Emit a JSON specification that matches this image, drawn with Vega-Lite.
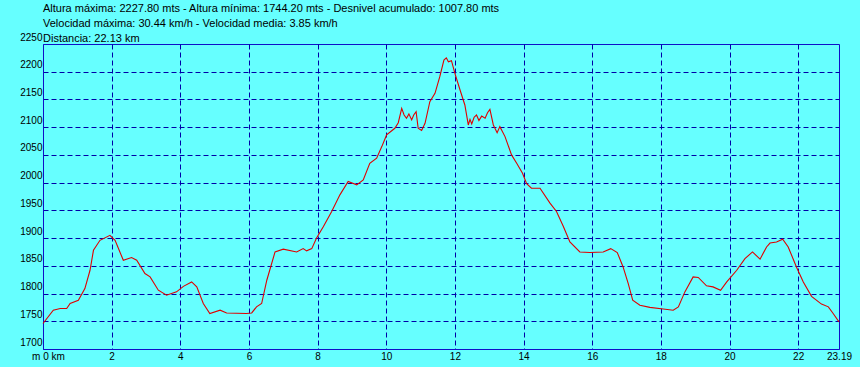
{
  "$schema": "https://vega.github.io/schema/vega-lite/v6.json",
  "width": 796,
  "height": 305,
  "autosize": {"type": "none"},
  "padding": {"left": 43, "top": 44, "right": 21, "bottom": 18},
  "background": "#66FFFF",
  "title": {
    "text": [
      "Altura máxima: 2227.80 mts - Altura mínima: 1744.20 mts - Desnivel acumulado: 1007.80 mts",
      "Velocidad máxima: 30.44 km/h - Velocidad media: 3.85 km/h",
      "Distancia: 22.13 km"
    ],
    "anchor": "start",
    "frame": "group",
    "font": "Liberation Sans",
    "fontSize": 11,
    "fontWeight": "normal",
    "color": "#000000",
    "lineHeight": 15,
    "offset": -12
  },
  "config": {
    "view": {"stroke": "#1010C8", "strokeWidth": 1, "fill": "#66FFFF"},
    "axis": {
      "labelFont": "Liberation Sans",
      "labelFontSize": 10,
      "labelColor": "#000000",
      "domainColor": "#1010C8",
      "domainWidth": 1,
      "ticks": false,
      "gridColor": "#0000A8",
      "gridDash": [5, 3],
      "gridWidth": 1,
      "gridOpacity": 1,
      "title": null
    }
  },
  "data": {
    "values": [
      {"km": 0, "alt": 1746}, {"km": 0.3, "alt": 1770}, {"km": 0.5, "alt": 1773}, {"km": 0.69, "alt": 1773},
      {"km": 0.79, "alt": 1782}, {"km": 1.03, "alt": 1788}, {"km": 1.22, "alt": 1809}, {"km": 1.37, "alt": 1842},
      {"km": 1.47, "alt": 1878}, {"km": 1.66, "alt": 1896}, {"km": 1.95, "alt": 1905}, {"km": 2.1, "alt": 1896},
      {"km": 2.34, "alt": 1860}, {"km": 2.58, "alt": 1865}, {"km": 2.73, "alt": 1860}, {"km": 2.97, "alt": 1836},
      {"km": 3.12, "alt": 1830}, {"km": 3.36, "alt": 1806}, {"km": 3.6, "alt": 1797}, {"km": 3.89, "alt": 1803},
      {"km": 4.09, "alt": 1813}, {"km": 4.33, "alt": 1821}, {"km": 4.48, "alt": 1812}, {"km": 4.67, "alt": 1782},
      {"km": 4.86, "alt": 1764}, {"km": 5.16, "alt": 1770}, {"km": 5.35, "alt": 1765}, {"km": 5.93, "alt": 1764},
      {"km": 6.08, "alt": 1765}, {"km": 6.22, "alt": 1776}, {"km": 6.37, "alt": 1782}, {"km": 6.52, "alt": 1824},
      {"km": 6.76, "alt": 1875}, {"km": 7.0, "alt": 1880}, {"km": 7.39, "alt": 1875}, {"km": 7.58, "alt": 1881},
      {"km": 7.68, "alt": 1877}, {"km": 7.83, "alt": 1881}, {"km": 7.97, "alt": 1900}, {"km": 8.17, "alt": 1921},
      {"km": 8.41, "alt": 1948}, {"km": 8.65, "alt": 1978}, {"km": 8.89, "alt": 2002}, {"km": 9.14, "alt": 1996},
      {"km": 9.33, "alt": 2005}, {"km": 9.52, "alt": 2035}, {"km": 9.72, "alt": 2044}, {"km": 9.87, "alt": 2065},
      {"km": 10.01, "alt": 2086}, {"km": 10.25, "alt": 2098}, {"km": 10.35, "alt": 2108}, {"km": 10.45, "alt": 2134},
      {"km": 10.52, "alt": 2122}, {"km": 10.59, "alt": 2116}, {"km": 10.66, "alt": 2124}, {"km": 10.74, "alt": 2113},
      {"km": 10.8, "alt": 2122}, {"km": 10.87, "alt": 2128}, {"km": 10.93, "alt": 2098},
      {"km": 11.03, "alt": 2094}, {"km": 11.13, "alt": 2107}, {"km": 11.27, "alt": 2146}, {"km": 11.42, "alt": 2161},
      {"km": 11.56, "alt": 2191}, {"km": 11.68, "alt": 2221}, {"km": 11.75, "alt": 2225}, {"km": 11.81, "alt": 2218}, {"km": 11.9, "alt": 2220},
      {"km": 12.0, "alt": 2197}, {"km": 12.15, "alt": 2167}, {"km": 12.29, "alt": 2140}, {"km": 12.39, "alt": 2104},
      {"km": 12.44, "alt": 2114}, {"km": 12.49, "alt": 2106}, {"km": 12.56, "alt": 2118}, {"km": 12.63, "alt": 2122},
      {"km": 12.7, "alt": 2112}, {"km": 12.78, "alt": 2120}, {"km": 12.88, "alt": 2116}, {"km": 12.95, "alt": 2126},
      {"km": 13.02, "alt": 2132}, {"km": 13.12, "alt": 2104}, {"km": 13.23, "alt": 2090}, {"km": 13.31, "alt": 2101},
      {"km": 13.46, "alt": 2083}, {"km": 13.65, "alt": 2050}, {"km": 13.8, "alt": 2035}, {"km": 13.97, "alt": 2017},
      {"km": 14.09, "alt": 1998}, {"km": 14.23, "alt": 1990}, {"km": 14.48, "alt": 1990}, {"km": 14.77, "alt": 1963},
      {"km": 14.96, "alt": 1948}, {"km": 15.16, "alt": 1921}, {"km": 15.35, "alt": 1893}, {"km": 15.64, "alt": 1875},
      {"km": 15.93, "alt": 1874}, {"km": 16.32, "alt": 1875}, {"km": 16.54, "alt": 1881}, {"km": 16.73, "alt": 1874},
      {"km": 16.9, "alt": 1848}, {"km": 17.05, "alt": 1818}, {"km": 17.18, "alt": 1788}, {"km": 17.39, "alt": 1779},
      {"km": 17.68, "alt": 1775}, {"km": 18.07, "alt": 1772}, {"km": 18.36, "alt": 1770}, {"km": 18.51, "alt": 1776},
      {"km": 18.7, "alt": 1803}, {"km": 18.94, "alt": 1830}, {"km": 19.09, "alt": 1829}, {"km": 19.33, "alt": 1814},
      {"km": 19.52, "alt": 1812}, {"km": 19.74, "alt": 1806}, {"km": 19.92, "alt": 1821}, {"km": 20.21, "alt": 1842},
      {"km": 20.45, "alt": 1863}, {"km": 20.67, "alt": 1875}, {"km": 20.89, "alt": 1862}, {"km": 21.08, "alt": 1884},
      {"km": 21.18, "alt": 1891}, {"km": 21.37, "alt": 1893}, {"km": 21.55, "alt": 1898}, {"km": 21.71, "alt": 1884},
      {"km": 21.95, "alt": 1848}, {"km": 22.15, "alt": 1821}, {"km": 22.39, "alt": 1795}, {"km": 22.68, "alt": 1781},
      {"km": 22.88, "alt": 1776}, {"km": 23.02, "alt": 1764}, {"km": 23.19, "alt": 1749}
    ]
  },
  "mark": {"type": "line", "color": "#E00000", "strokeWidth": 1.1, "interpolate": "linear"},
  "encoding": {
    "x": {
      "field": "km",
      "type": "quantitative",
      "scale": {"domain": [0, 23.19], "nice": false, "zero": false},
      "axis": {
        "values": [0, 2, 4, 6, 8, 10, 12, 14, 16, 18, 20, 22, 23.19],
        "labelExpr": "datum.value == 0 ? 'm 0 km' : (datum.value == 23.19 ? '23.19' : datum.label)",
        "labelPadding": 2,
        "labelFlush": false,
        "labelOverlap": false,
        "labelOffset": {"condition": {"test": "datum.value == 0", "value": 5}, "value": 0},
        "gridOpacity": {"condition": {"test": "datum.value == 0 || datum.value > 23", "value": 0}, "value": 1}
      }
    },
    "y": {
      "field": "alt",
      "type": "quantitative",
      "scale": {"domain": [1700, 2250], "nice": false, "zero": false},
      "axis": {
        "values": [1700, 1750, 1800, 1850, 1900, 1950, 2000, 2050, 2100, 2150, 2200, 2250],
        "format": "d",
        "labelPadding": 1,
        "labelBaseline": "bottom",
        "labelFlush": false,
        "labelOverlap": false,
        "labelOffset": -2,
        "gridOpacity": {"condition": {"test": "datum.value == 1700 || datum.value == 2250", "value": 0}, "value": 1}
      }
    }
  }
}
